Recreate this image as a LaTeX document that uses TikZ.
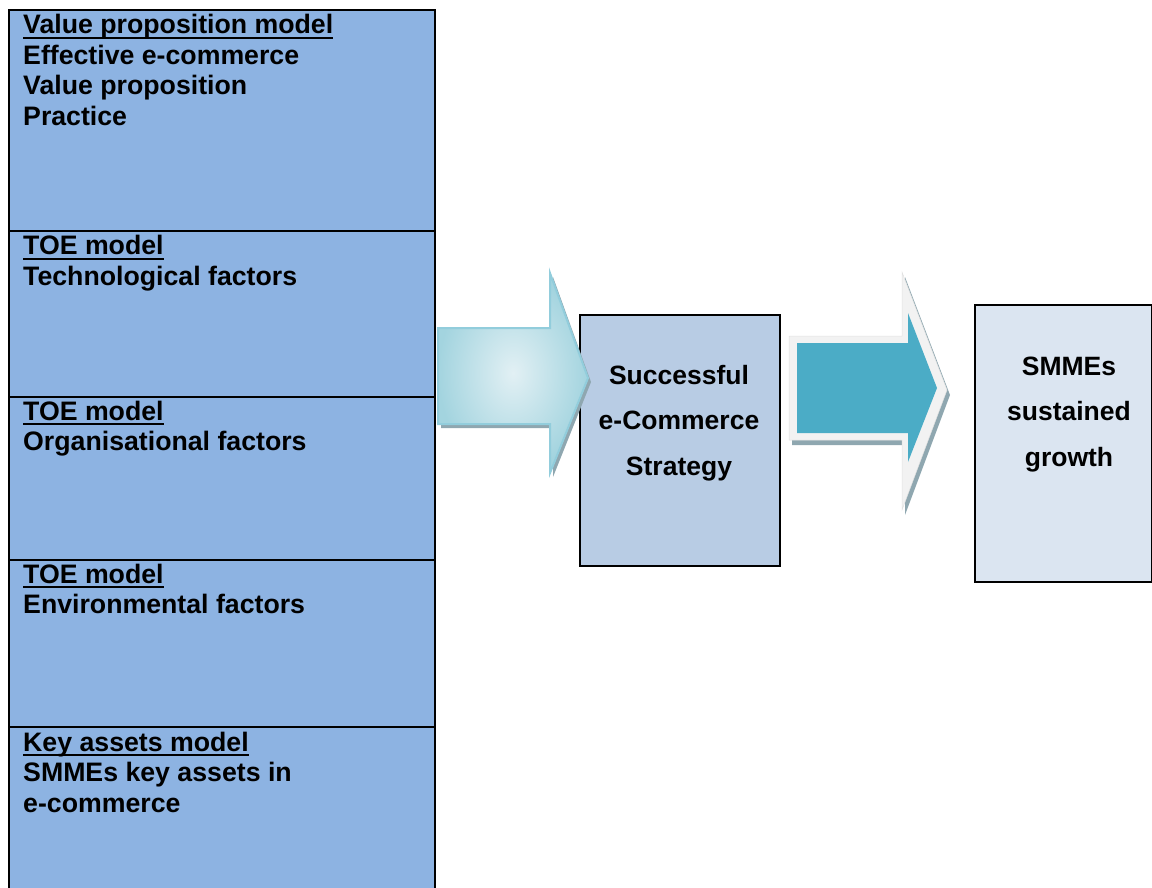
\documentclass[tikz,border=0pt]{standalone}
\usepackage{fontspec}
\setmainfont{Liberation Sans}
\definecolor{secblue}{HTML}{8DB3E2}
\definecolor{midblue}{HTML}{B8CCE4}
\definecolor{paleblue}{HTML}{DBE5F1}
\definecolor{tealfill}{HTML}{4BACC6}
\definecolor{arrowedge}{HTML}{92CDDC}
\definecolor{arrowlight}{HTML}{E2F0F4}
\definecolor{arrowdeep}{HTML}{A3D4DF}
\definecolor{shadowgray}{HTML}{8FA7B0}
\definecolor{rimgray}{HTML}{F2F2F2}
% underlined heading with a fixed rule position
\newcommand{\undl}[1]{\setbox0\hbox{#1}\rlap{\rule[-5.3pt]{\wd0}{2pt}}\box0}
\begin{document}
\begin{tikzpicture}[x=1pt,y=-1pt,
  sectxt/.style={font=\bfseries\fontsize{26.7}{30.5}\selectfont, inner sep=0pt,
                 align=left, anchor=base west},
  bigtxt/.style={font=\bfseries\fontsize{26.5}{45.5}\selectfont, inner sep=0pt,
                 align=center, anchor=base},
  secbox/.style={draw=black, line width=2.2pt, fill=secblue, anchor=north west,
                 minimum width=426pt, inner sep=0pt},
  box/.style={draw=black, line width=2.2pt, anchor=north west, inner sep=0pt}
]
\useasboundingbox (0,0) rectangle (1152,888);

% left column: five stacked model sections
\node[secbox, minimum height=221pt]   (s1) at (8,9)     {};
\node[secbox, minimum height=165.5pt] (s2) at (8,230)   {};
\node[secbox, minimum height=163pt]   (s3) at (8,395.5) {};
\node[secbox, minimum height=167pt]   (s4) at (8,558.5) {};
\node[secbox, minimum height=180pt]   (s5) at (8,725.5) {};

% section texts, placed by the baseline of their last line
\node[sectxt] (t1) at (23,125.5) {\undl{Value proposition model}\\Effective e-commerce\\Value proposition\\Practice};
\node[sectxt] (t2) at (23,285)   {\undl{TOE model}\\Technological factors};
\node[sectxt] (t3) at (23,450.5) {\undl{TOE model}\\Organisational factors};
\node[sectxt] (t4) at (23,613.5) {\undl{TOE model}\\Environmental factors};
\node[sectxt] (t5) at (23,812)   {\undl{Key assets model}\\SMMEs key assets in\\e-commerce};

% strategy and outcome boxes
\node[box, fill=midblue, minimum width=200pt, minimum height=251pt] (strat) at (579,314) {};
\node[bigtxt] (strattxt) at (679,475) {Successful\\e-Commerce\\Strategy};

\node[box, fill=paleblue, minimum width=177pt, minimum height=277pt] (growth) at (974,304) {};
\node[bigtxt] (growthtxt) at (1069,466) {SMMEs\\sustained\\growth};

% first block arrow: shaded, into the strategy box
\fill[shadowgray] ([shift={(3,4)}]438,328) -- ++(112,0) -- ++(0,-55) -- ++(38,105)
  -- ++(-38,95) -- ++(0,-49) -- ++(-112,0) -- cycle;
\path[draw=arrowedge, line width=2pt, inner color=arrowlight, outer color=arrowdeep]
  (438,328) -- (550,328) -- (550,273) -- (588,378) -- (550,473) -- (550,424) -- (438,424) -- cycle;

% second block arrow: teal with a light rim, towards growth
\fill[shadowgray] ([shift={(3,5)}]789,336) -- ++(113,0) -- ++(0,-64) -- ++(45,118)
  -- ++(-45,120) -- ++(0,-70) -- ++(-113,0) -- cycle;
\path[fill=rimgray, draw=rimgray!85!gray, line width=0.5pt]
  (789,336) -- (902,336) -- (902,272) -- (947,390) -- (902,510) -- (902,440) -- (789,440) -- cycle;
\fill[tealfill]
  (797,343) -- (908,343) -- (908,313) -- (937,388) -- (908,462) -- (908,433) -- (797,433) -- cycle;
\end{tikzpicture}
\end{document}
